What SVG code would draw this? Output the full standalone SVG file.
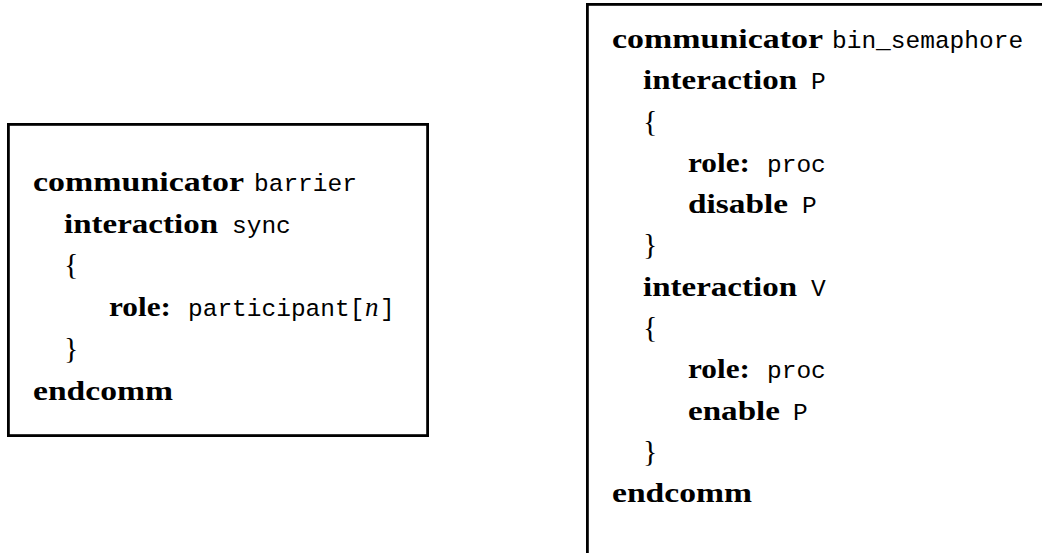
<svg xmlns="http://www.w3.org/2000/svg" width="1042" height="553" viewBox="0 0 1042 553">
<style>
.box{fill:none;stroke:#000;stroke-width:2.8}
.kw{font-family:"Liberation Serif",serif;font-weight:bold;font-size:28px;fill:#000}
.tt{font-family:"Liberation Mono",monospace;font-size:24.5px;fill:#000}
.br{font-family:"Liberation Serif",serif;font-size:30px;fill:#000}
.it{font-family:"Liberation Serif",serif;font-style:italic;font-size:27px;fill:#000}
</style>
<rect width="1042" height="553" fill="#fff"/>
<g id="barrier">
<rect class="box" x="8.4" y="124.4" width="419.2" height="311.2"/>
<text class="kw" x="33" y="191" textLength="211" lengthAdjust="spacingAndGlyphs">communicator</text>
<text class="tt" x="254" y="191">barrier</text>
<text class="kw" x="64" y="232.7" textLength="154" lengthAdjust="spacingAndGlyphs">interaction</text>
<text class="tt" x="232" y="232.7">sync</text>
<text class="br" x="64" y="274.4">{</text>
<text class="kw" x="109" y="316.1" textLength="62" lengthAdjust="spacingAndGlyphs">role:</text>
<text class="tt" x="188" y="316.1">participant[</text>
<text class="it" x="365" y="316.1">n</text>
<text class="tt" x="380" y="316.1">]</text>
<text class="br" x="64" y="357.8">}</text>
<text class="kw" x="33" y="399.5" textLength="140" lengthAdjust="spacingAndGlyphs">endcomm</text>
</g>
<g id="bin_semaphore">
<rect class="box" x="587.4" y="4.4" width="480" height="580"/>
<text class="kw" x="612" y="48" textLength="211" lengthAdjust="spacingAndGlyphs">communicator</text>
<text class="tt" x="832" y="48">bin_semaphore</text>
<text class="kw" x="643" y="89.3" textLength="154" lengthAdjust="spacingAndGlyphs">interaction</text>
<text class="tt" x="811" y="89.3">P</text>
<text class="br" x="643" y="130.5">{</text>
<text class="kw" x="688" y="171.8" textLength="62" lengthAdjust="spacingAndGlyphs">role:</text>
<text class="tt" x="767" y="171.8">proc</text>
<text class="kw" x="688" y="213.1" textLength="100" lengthAdjust="spacingAndGlyphs">disable</text>
<text class="tt" x="802" y="213.1">P</text>
<text class="br" x="643" y="254.4">}</text>
<text class="kw" x="643" y="295.6" textLength="154" lengthAdjust="spacingAndGlyphs">interaction</text>
<text class="tt" x="811" y="295.6">V</text>
<text class="br" x="643" y="336.9">{</text>
<text class="kw" x="688" y="378.2" textLength="62" lengthAdjust="spacingAndGlyphs">role:</text>
<text class="tt" x="767" y="378.2">proc</text>
<text class="kw" x="688" y="419.5" textLength="92" lengthAdjust="spacingAndGlyphs">enable</text>
<text class="tt" x="793" y="419.5">P</text>
<text class="br" x="643" y="460.7">}</text>
<text class="kw" x="612" y="502" textLength="140" lengthAdjust="spacingAndGlyphs">endcomm</text>
</g>
<g id="connectors"/>
</svg>
